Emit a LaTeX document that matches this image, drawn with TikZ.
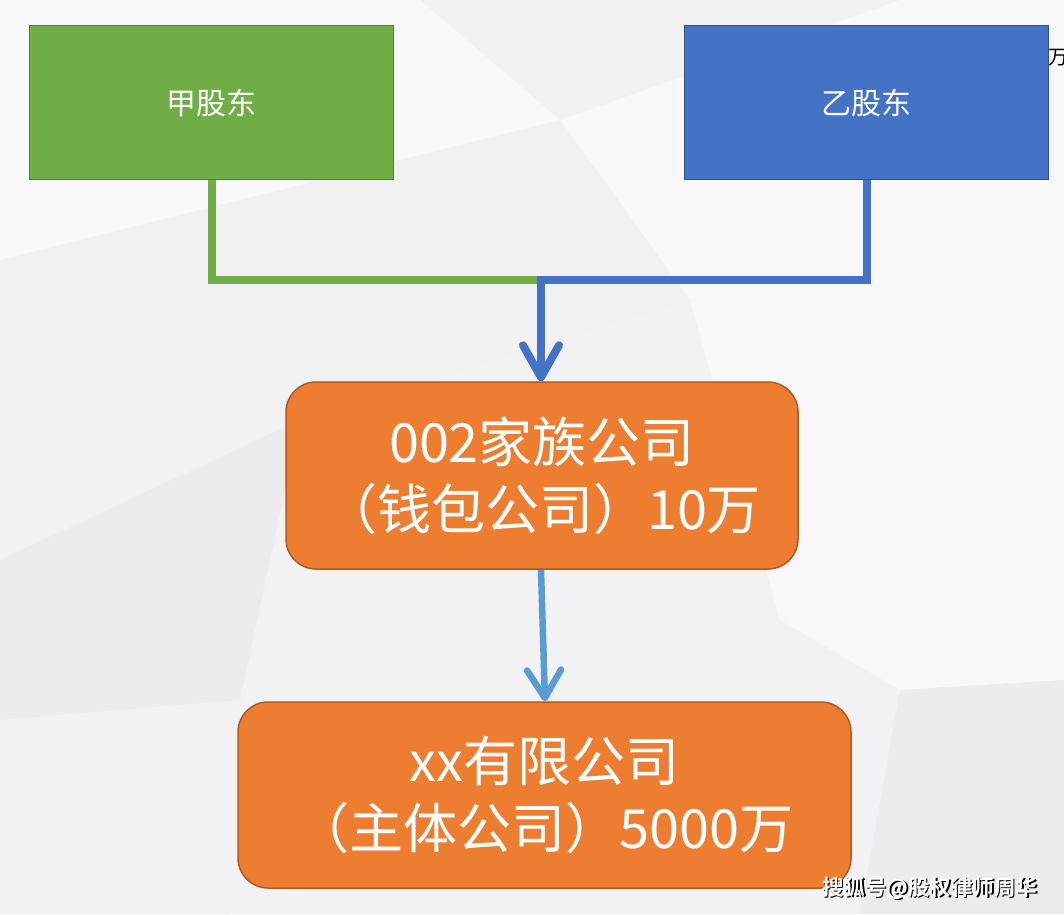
\documentclass[tikz,border=0pt]{standalone}
\usepackage{fontspec}
\setmainfont{Noto Sans CJK SC}
\newfontfamily\cjkb{Noto Sans CJK SC Bold}
\usetikzlibrary{arrows.meta}
\definecolor{bgbase}{HTML}{F2F2F4}
\definecolor{bglight}{HTML}{F8F8FA}
\definecolor{bgdark}{HTML}{ECECEF}
\definecolor{gfill}{HTML}{70AD47}
\definecolor{gline}{HTML}{507E32}
\definecolor{bfill}{HTML}{4472C4}
\definecolor{bline}{HTML}{2F528F}
\definecolor{ofill}{HTML}{ED7D31}
\definecolor{oline}{HTML}{AE5A21}
\definecolor{lblue}{HTML}{5B9BD5}
\tikzset{
  holder/.style={draw, line width=1.2pt, minimum width=364pt, minimum height=154pt, text=white, font=\fontsize{30}{36}\selectfont},
  orangebox/.style={draw=oline, fill=ofill, line width=1.5pt, rounded corners=30pt, text=white, align=center, font=\fontsize{54}{67}\selectfont},
  thickline/.style={line width=8pt},
  bigtip/.style={-{Straight Barb[length=32pt,width=36pt,line width=8pt,round]}}
}
\begin{document}
\begin{tikzpicture}[x=1pt,y=-1pt]
% background
\fill[bgbase] (0,0) rectangle (1064,914);
\useasboundingbox (0,0) rectangle (1064,914);
\fill[bglight] (0,0) -- (420,0) -- (560,120) -- (0,260) -- cycle;
\fill[bglight] (560,120) -- (900,0) -- (1064,0) -- (1064,260) -- (690,300) -- cycle;
\fill[bgdark!60!bglight] (0,260) -- (560,120) -- (690,300) -- (300,420) -- (0,560) -- cycle;
\fill[bglight] (690,300) -- (1064,260) -- (1064,520) -- (780,620) -- cycle;
\fill[bgdark] (0,560) -- (300,420) -- (240,700) -- (0,720) -- cycle;
\fill[bglight] (780,620) -- (1064,520) -- (1064,680) -- (900,690) -- cycle;
\fill[bgdark!50!bglight] (0,720) -- (240,700) -- (230,914) -- (0,914) -- cycle;
\fill[bgdark] (900,690) -- (1064,680) -- (1064,914) -- (860,914) -- cycle;

% shareholders
\node[holder, draw=gline, fill=gfill, anchor=north west] (a) at (29,25) {甲股东};
\node[holder, draw=bline, fill=bfill, anchor=north west] (b) at (684,25) {乙股东};
\node[anchor=west, font=\fontsize{20}{24}\selectfont, text=black, inner sep=0pt] (c) at (1048,58) {万};

% companies
\node[orangebox, minimum width=512pt, minimum height=187pt] (f) at (542,475.5) {002家族公司\\（钱包公司）10万};
\node[orangebox, minimum width=613pt, minimum height=186pt] (m) at (544.5,795) {xx有限公司\\（主体公司）5000万};

% connectors
\coordinate (j) at (541,280);
\draw[thickline, gfill] (a.south) |- (j);
\draw[thickline, bfill, line join=miter] (b.south) |- (j) -- ++(0,-4);
\draw[thickline, bfill, bigtip] (541,276) -- (f.north -| 541,0);
\draw[line width=6.5pt, lblue, -{Straight Barb[length=28pt,width=34pt,line width=6.5pt,round]}] (f.south -| 541,0) -- (m.north -| 545,0);

% watermark
\node[anchor=east, font=\cjkb\fontsize{21.5}{26}\selectfont, text=black] (wm0) at (1042.5,889.5) {搜狐号@股权律师周华};
\node[anchor=east, font=\cjkb\fontsize{21.5}{26}\selectfont, text=white] (wm) at (1041,888) {搜狐号@股权律师周华};
\end{tikzpicture}
\end{document}
